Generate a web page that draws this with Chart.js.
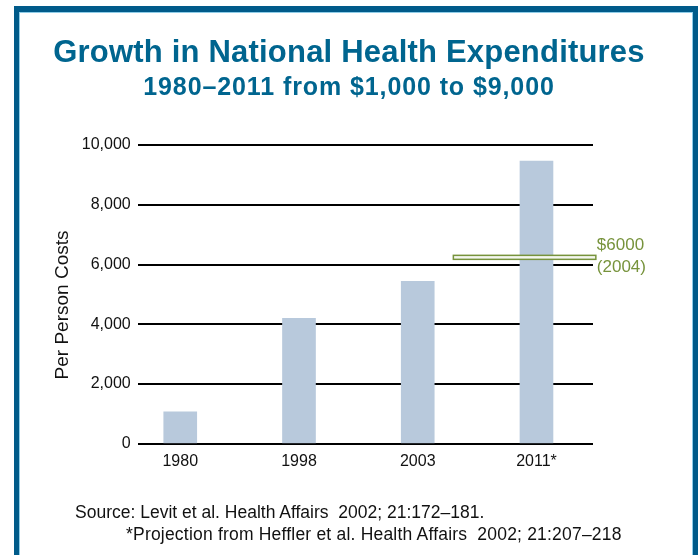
<!DOCTYPE html>
<html>
<head>
<meta charset="utf-8">
<script src="https://cdn.jsdelivr.net/npm/chart.js@4.4.1/dist/chart.umd.min.js"></script>
<style>
  html, body { margin: 0; padding: 0; background: #fff; }
  body { width: 698px; height: 555px; position: relative; overflow: hidden; font-family: "Liberation Sans", Arial, sans-serif; }
  #frame {
    position: absolute; left: 14px; top: 6px; width: 674px; height: 600px;
    border-left: 5px solid #005b8a; border-top: 6px solid #005b8a; border-right: 5px solid #005b8a;
    box-shadow: inset 1px 1px 0 #8fcde8, inset -1px 0 0 #8fcde8;
  }
  #wrap { position: absolute; left: 0; top: 0; width: 698px; height: 555px; }
  .head { position: absolute; left: 0; width: 698px; text-align: center; color: #00658f; font-weight: bold; white-space: pre; }
  #title { top: 36px; font-size: 31px; line-height: 31px; letter-spacing: 0.2px; }
  #subtitle { top: 74px; font-size: 25px; line-height: 25px; letter-spacing: 0.9px; }
  .src { position: absolute; font-size: 17.5px; line-height: 20px; color: #111; white-space: pre; }
</style>
</head>
<body>
<div id="frame"></div>
<div id="wrap"><canvas id="healthChart"></canvas></div>
<div class="head" id="title">Growth in National Health Expenditures</div>
<div class="head" id="subtitle">1980–2011 from $1,000 to $9,000</div>
<div class="src" style="left:75px; top:502px;">Source: Levit et al. Health Affairs  2002; 21:172–181.</div>
<div class="src" style="left:126px; top:524px; letter-spacing:0.2px;">*Projection from Heffler et al. Health Affairs  2002; 21:207–218</div>
<script>
// Data
const years = ['1980', '1998', '2003', '2011*'];
const perPersonCost = [1070, 4200, 5440, 9460];
const yTicks = [0, 2000, 4000, 6000, 8000, 10000];

// $6000 (2004) marker
const noteValue = 6240;
const noteSpan = [2.3, 3.5];
const noteLabel = ['$6000', '(2004)'];

const green = '#77933c';
const font = '"Liberation Sans", Arial, sans-serif';

// Draws the green marker bar and its label
const notePlugin = {
  id: 'note',
  afterDatasetsDraw(chart) {
    const { ctx, scales } = chart;
    const x1 = scales.x.getPixelForValue(noteSpan[0]);
    const x2 = scales.x.getPixelForValue(noteSpan[1]);
    const y = scales.y.getPixelForValue(noteValue);
    ctx.save();
    ctx.fillStyle = '#f4f7ee';
    ctx.strokeStyle = green;
    ctx.lineWidth = 1.5;
    ctx.fillRect(x1, y - 2, x2 - x1, 4);
    ctx.strokeRect(x1, y - 2, x2 - x1, 4);
    ctx.fillStyle = green;
    ctx.font = '17px ' + font;
    ctx.textAlign = 'left';
    ctx.textBaseline = 'middle';
    ctx.fillText(noteLabel[0], x2 + 1, y - 12);
    ctx.fillText(noteLabel[1], x2 + 1, y + 10);
    ctx.restore();
  }
};

const ctx = document.getElementById('healthChart').getContext('2d');
new Chart(ctx, {
  type: 'bar',
  data: {
    datasets: [{
      data: perPersonCost.map((v, i) => ({ x: i, y: v })),
      backgroundColor: '#b8c9dc',
      borderWidth: 0,
      barThickness: 33
    }]
  },
  options: {
    responsive: true,
    maintainAspectRatio: false,
    animation: false,
    layout: { padding: { left: 51, right: 105, bottom: 76, top: 145 } },
    plugins: {
      legend: { display: false },
      tooltip: { enabled: false }
    },
    scales: {
      x: {
        type: 'linear',
        offset: false,
        min: -0.358,
        max: 3.476,
        afterBuildTicks: (axis) => { axis.ticks = years.map((_, i) => ({ value: i })); },
        ticks: {
          callback: (v) => years[v],
          color: '#111',
          padding: 8,
          maxRotation: 0,
          font: { family: font, size: 16 }
        },
        grid: { display: false, drawTicks: false },
        border: { display: false }
      },
      y: {
        min: 0,
        max: 10000,
        afterBuildTicks: (axis) => { axis.ticks = yTicks.map(v => ({ value: v })); },
        ticks: {
          callback: (v) => v.toLocaleString('en-US'),
          color: '#111',
          padding: 7,
          font: { family: font, size: 16 }
        },
        grid: { color: '#000', lineWidth: 2, drawTicks: false },
        border: { display: false },
        title: {
          display: true,
          text: 'Per Person Costs    ',
          color: '#111',
          padding: { top: 0, bottom: 1 },
          font: { family: font, size: 19 }
        }
      }
    }
  },
  plugins: [notePlugin]
});
</script>
</body>
</html>
